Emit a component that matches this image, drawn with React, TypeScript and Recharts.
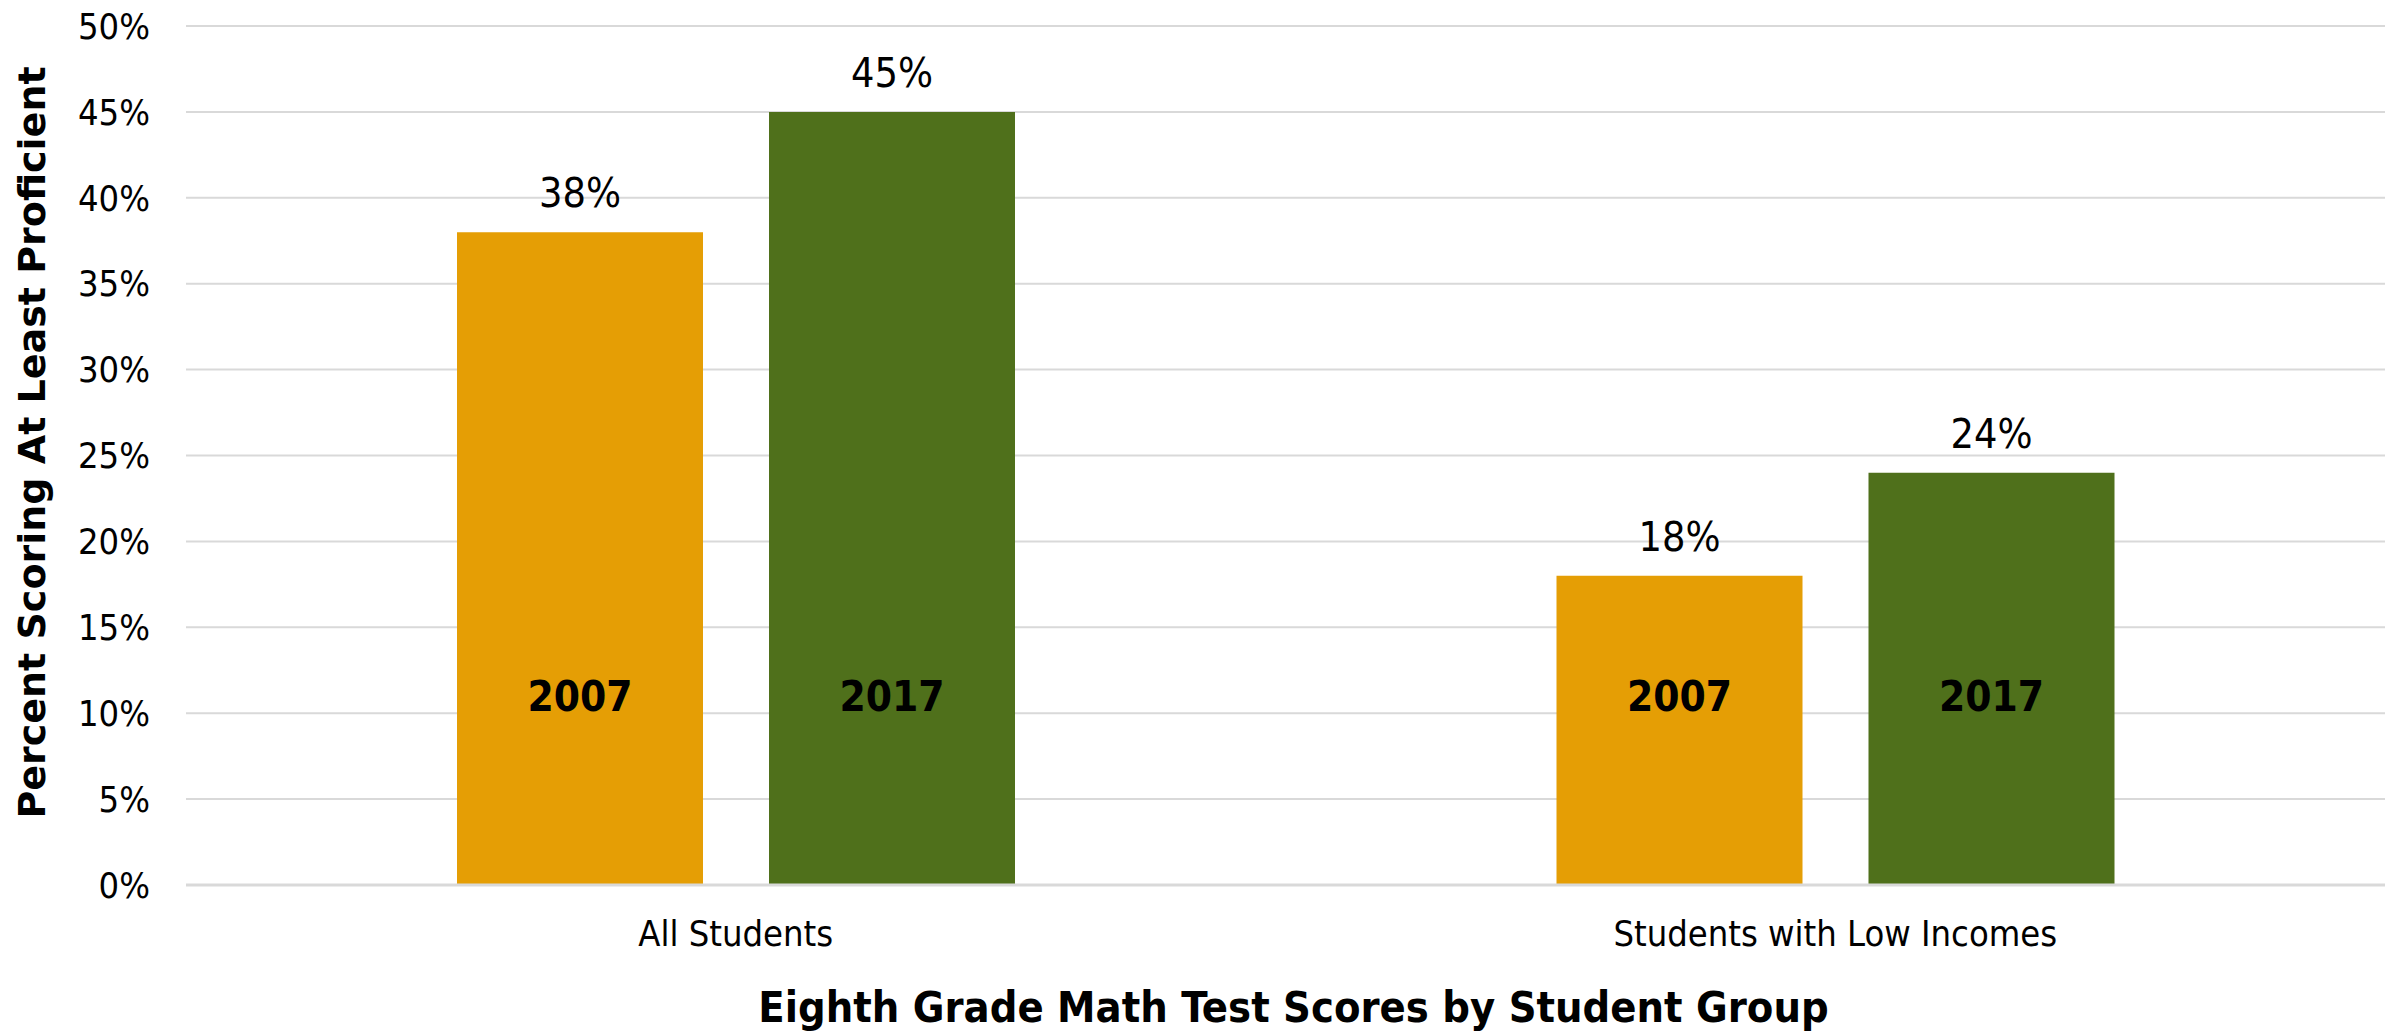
import { Bar, BarChart, CartesianGrid, LabelList, XAxis, YAxis } from "recharts";

const categories = ["All Students", "Students with Low Incomes"];
const seriesNames = ["2007", "2017"];
const values2007 = [38, 18];
const values2017 = [45, 24];
const yTicks = [0, 5, 10, 15, 20, 25, 30, 35, 40, 45, 50];
const xTitle = "Eighth Grade Math Test Scores by Student Group";
const yTitle = "Percent Scoring At Least Proficient";

const data = categories.map((name, i) => ({
	name,
	y2007: values2007[i],
	y2017: values2017[i],
}));

const condensed = "'DejaVu Sans Condensed', 'DejaVu Sans', sans-serif";

const valueLabel = (props: any) => {
	const { x, y, width, value } = props;
	return (
		<text
			x={x + width / 2}
			y={y - 25}
			textAnchor="middle"
			fontFamily={condensed}
			fontStretch="condensed"
			fontSize={41}
			fill="#000"
		>
			{`${value}%`}
		</text>
	);
};

const seriesLabel = (name: string) => (props: any) => {
	const { x, y, width, height } = props;
	return (
		<text
			x={x + width / 2}
			y={y + height - 174}
			textAnchor="middle"
			fontFamily={condensed}
			fontStretch="condensed"
			fontWeight="bold"
			fontSize={42}
			fill="#000"
		>
			{name}
		</text>
	);
};

export default function App() {
	return (
		<div style={{ position: "absolute", left: 0, top: 0, background: "#fff" }}>
			<BarChart
				width={2394}
				height={1034}
				data={data}
				margin={{ top: 26, right: 9, bottom: 0, left: 0 }}
				barSize={246}
				barGap={66}
			>
				<CartesianGrid vertical={false} stroke="#d9d9d9" strokeWidth={2} />
				<XAxis
					dataKey="name"
					height={149}
					tickLine={false}
					tickSize={0}
					tickMargin={35}
					axisLine={{ stroke: "#d9d9d9", strokeWidth: 3 }}
					tick={{ fill: "#000", fontSize: 36, fontFamily: condensed, fontStretch: "condensed" }}
					label={{
						content: (p: any) => {
							const vb = p.viewBox;
							return (
								<text
									x={vb.x + vb.width / 2 + 8}
									y={1022}
									textAnchor="middle"
									fontFamily={condensed}
									fontStretch="condensed"
									fontWeight="bold"
									fontSize={43}
									fill="#000"
								>
									{xTitle}
								</text>
							);
						},
					}}
				/>
				<YAxis
					width={186}
					domain={[0, 50]}
					ticks={yTicks}
					interval={0}
					tickLine={false}
					axisLine={false}
					tickSize={0}
					tickMargin={36}
					tickFormatter={(v) => `${v}%`}
					tick={{ fill: "#000", fontSize: 36, fontFamily: condensed, fontStretch: "condensed" }}
					label={{
						content: (p: any) => {
							const vb = p.viewBox;
							const cy = vb.y + vb.height / 2 - 13;
							return (
								<text
									x={45}
									y={cy}
									transform={`rotate(-90 45 ${cy})`}
									textAnchor="middle"
									fontFamily="'DejaVu Sans', sans-serif"
									fontWeight="bold"
									fontSize={38}
									fill="#000"
								>
									{yTitle}
								</text>
							);
						},
					}}
				/>
				<Bar dataKey="y2007" name={seriesNames[0]} fill="#e59e05" isAnimationActive={false}>
					<LabelList dataKey="y2007" content={valueLabel} />
					<LabelList dataKey="y2007" content={seriesLabel(seriesNames[0])} />
				</Bar>
				<Bar dataKey="y2017" name={seriesNames[1]} fill="#4f701b" isAnimationActive={false}>
					<LabelList dataKey="y2017" content={valueLabel} />
					<LabelList dataKey="y2017" content={seriesLabel(seriesNames[1])} />
				</Bar>
			</BarChart>
		</div>
	);
}
